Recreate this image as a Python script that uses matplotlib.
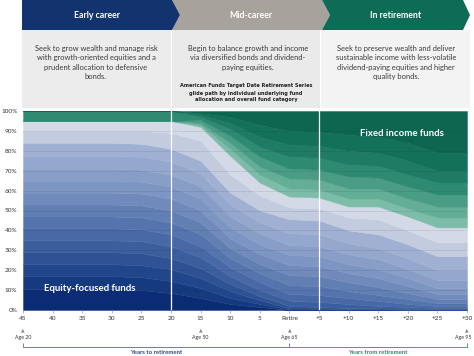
import numpy as np
import matplotlib
matplotlib.use("Agg")
import matplotlib.pyplot as plt
from matplotlib.patches import Polygon, Rectangle
from matplotlib.transforms import blended_transform_factory, offset_copy

plt.rcParams['font.family'] = ['Lato', 'DejaVu Sans']

# ---------------- data ----------------
years = [-45, -40, -35, -30, -25, -20, -15, -10, -5, 0, 5, 10, 15, 20, 25, 30]
tick_labels = ["45", "40", "35", "30", "25", "20", "15", "10", "5", "Retire",
               "+5", "+10", "+15", "+20", "+25", "+30"]

# cumulative tops (%) of the 15 equity fund layers at each year (bottom -> top)
equity_tops = [
    [10.5, 17, 23, 29, 35, 41, 47, 53, 59, 65, 71, 77.5, 84, 90, 95],
    [10.5, 17, 23, 29, 35, 41, 47, 53, 59, 65, 71, 77.5, 84, 90, 95],
    [10.5, 17, 23, 29, 35, 41, 47, 53, 59, 65, 71, 77.5, 84, 90, 95],
    [10.5, 17, 23, 29, 35, 41, 47, 53, 59, 65, 71, 77.5, 84, 90, 95],
    [10, 16.5, 22.5, 28.5, 34.5, 40.5, 46.5, 52.5, 58.5, 64.5, 70.5, 77, 83.5, 90, 95],
    [8.5, 14.5, 20.5, 26, 32, 38, 44, 50, 56, 62, 68, 74.5, 81, 89, 95],
    [6, 11, 16, 21, 26.5, 32, 38, 44, 50, 56, 62, 68.5, 75, 85, 92],
    [3, 6, 9.5, 13, 17, 21.5, 26, 31, 36, 41.5, 47, 53, 59, 68, 77.5],
    [1.5, 3, 5, 7, 10, 14, 18.5, 23, 28, 33, 38.5, 44, 50, 57.5, 64],
    [0, 0.3, 0.8, 2, 4.7, 8, 12.4, 17.5, 22.5, 27.6, 32.6, 38.6, 45.6, 51.5, 57],
    [0, 0.2, 0.6, 1.5, 4, 7.5, 12, 17, 22, 27, 32, 38, 45, 51, 56.5],
    [0, 0.1, 0.4, 1, 3, 6, 9.5, 14, 18.5, 23, 28, 33.5, 40, 46.5, 52],
    [0, 0, 0.3, 0.8, 2, 4.5, 7.5, 11.5, 16, 20.5, 25.5, 31, 38, 45.5, 52],
    [0, 0, 0.1, 0.5, 1.5, 3, 5.5, 8.5, 12, 16, 20.5, 26, 33, 40, 47],
    [0, 0, 0, 0.3, 1, 2, 3.5, 5.5, 8, 11, 15, 20, 27, 34, 41.5],
    [0, 0, 0, 0.3, 1, 2, 3.5, 5.5, 8, 11, 15, 20, 27, 34, 41.5],
]

# cumulative tops (%) of the 7 fixed income fund layers at each year
income_tops = [
    [95, 95, 95, 100, 100, 100, 100],
    [95, 95, 95, 100, 100, 100, 100],
    [95, 95, 95, 100, 100, 100, 100],
    [95, 95, 95, 100, 100, 100, 100],
    [95, 95, 95, 100, 100, 100, 100],
    [95, 95, 95, 100, 100, 100, 100],
    [93, 94, 95.5, 97, 98, 99, 100],
    [81, 84, 87.5, 91, 94, 97, 100],
    [68, 72, 77, 82, 87, 93, 100],
    [61, 66, 71, 77, 83, 90, 100],
    [60.5, 65.5, 70.5, 76.5, 82.5, 89.5, 100],
    [56, 61, 67, 73, 80, 88, 100],
    [56, 61, 66.5, 72.5, 79, 87, 100],
    [51, 56, 62, 68, 75, 84, 100],
    [46.5, 52, 58, 64, 70, 79, 100],
    [46.5, 52, 58, 64, 70, 79, 100],
]

age_years = [-45, -15, 0, 30]
age_labels = ["Age 20", "Age 50", "Age 65", "Age 95"]

phases = ["Early career", "Mid-career", "In retirement"]
phase_text = [
    ["Seek to grow wealth and manage risk", "with growth-oriented equities and a",
     "prudent allocation to defensive", "bonds."],
    ["Begin to balance growth and income", "via diversified bonds and dividend-",
     "paying equities."],
    ["Seek to preserve wealth and deliver", "sustainable income with less-volatile",
     "dividend-paying equities and higher", "quality bonds."],
]
note_text = ["American Funds Target Date Retirement Series",
             "glide path by individual underlying fund",
             "allocation and overall fund category"]

equity_colors = ["#0b2c74", "#163a80", "#22468b", "#2e5294", "#3b5e9d", "#4869a6",
                 "#5574ad", "#627fb4", "#6f8abb", "#7c95c2", "#889ec7", "#94a7cd",
                 "#a0b0d3", "#c3cbdf", "#d3d9e7"]
income_colors = ["#7dbca8", "#64ad97", "#4a9c85", "#2f8a72", "#1f7b63", "#137059", "#0c6650"]

# ---------------- figure ----------------
W, H = 474, 356
fig = plt.figure(figsize=(W / 100, H / 100), dpi=100)
ov = fig.add_axes([0, 0, 1, 1])
ov.set_xlim(0, W)
ov.set_ylim(H, 0)
ov.axis('off')

ax = fig.add_axes([23 / W, 1 - 310 / H, 444 / W, 199 / H])

x = np.array(years, dtype=float)
eq = np.array(equity_tops, dtype=float)
inc = np.array(income_tops, dtype=float)

lower = np.zeros(len(x))
for k in range(eq.shape[1]):
    upper = eq[:, k]
    ax.fill_between(x, lower, upper, facecolor=equity_colors[k],
                    edgecolor=equity_colors[k], linewidth=0.3)
    lower = upper
for k in range(inc.shape[1]):
    upper = inc[:, k]
    ax.fill_between(x, lower, upper, facecolor=income_colors[k],
                    edgecolor=income_colors[k], linewidth=0.3)
    lower = upper

for g in range(10, 100, 10):
    ax.axhline(g, color='#1a2a40', alpha=0.12, lw=0.6, zorder=3)
for v in (-20, 5):
    ax.axvline(v, color='white', lw=0.9, zorder=4)

ax.set_xlim(-45, 30)
ax.set_ylim(0, 100)
ax.set_yticks(range(0, 101, 10))
ax.set_yticklabels([f"{v}%" for v in range(0, 101, 10)])
ax.set_xticks(years)
ax.set_xticklabels(tick_labels)
ax.tick_params(axis='y', length=0, pad=4, labelsize=4.6, labelcolor='#333333')
ax.tick_params(axis='x', length=2.5, width=0.5, color='#9a9a9a', pad=2,
               labelsize=4.6, labelcolor='#333333')
for s in ax.spines.values():
    s.set_visible(False)

ax.text(-41.5, 11, "Equity-focused funds", color='white', fontsize=6.9,
        fontweight='bold', va='center', ha='left', zorder=5)
ax.text(12, 88.5, "Fixed income funds", color='white', fontsize=6.9,
        fontweight='bold', va='center', ha='left', zorder=5)

# ---------------- header ----------------
ov.add_patch(Rectangle((22, 30), 149, 78, facecolor='#ececec', edgecolor='none'))
ov.add_patch(Rectangle((172.5, 30), 147.5, 78, facecolor='#eaeaea', edgecolor='none'))
ov.add_patch(Rectangle((321, 30), 149, 78, facecolor='#f3f3f3', edgecolor='none'))

ov.add_patch(Polygon([(172, 0), (322, 0), (330, 15), (322, 30), (172, 30), (180, 15)],
                     closed=True, facecolor='#a7a29c', edgecolor='none'))
ov.add_patch(Polygon([(322, 0), (463, 0), (470, 15), (463, 30), (322, 30), (330, 15)],
                     closed=True, facecolor='#0e6b55', edgecolor='none'))
ov.add_patch(Polygon([(22, 0), (172, 0), (180, 15), (172, 30), (22, 30)],
                     closed=True, facecolor='#13336f', edgecolor='none'))

centers = [97, 251, 396]
for cx, title in zip(centers, phases):
    ov.text(cx, 15.5, title, color='white', fontsize=6.3, fontweight='bold',
            ha='center', va='center')
for cx, lines in zip([96, 248, 396], phase_text):
    for i, line in enumerate(lines):
        ov.text(cx, 48.5 + i * 9.3, line, color='#3a3a3a', fontsize=5.4,
                ha='center', va='center')
for i, line in enumerate(note_text):
    ov.text(246, 86 + i * 7, line, color='#222222', fontsize=3.6, fontweight='bold',
            ha='center', va='center', family=['Liberation Sans Narrow', 'DejaVu Sans'])

# ---------------- bottom annotations ----------------
bt = blended_transform_factory(ax.transData, ov.transData)
for yv, lab in zip(age_years, age_labels):
    tr = bt
    tx = yv
    if yv == age_years[-1]:
        tr = offset_copy(bt, fig=fig, x=-4, y=0, units='dots')
    ov.text(yv, 330, "\u25B2", transform=bt, fontsize=3.4, color='#8a8a8a',
            ha='center', va='center', family=['DejaVu Sans'])
    ov.text(tx, 338, lab, transform=tr, fontsize=3.8, color='#333333',
            ha='center', va='center')

ov.plot([-45, -45, 0, 0], [343, 346.5, 346.5, 343], transform=bt,
        color='#6d7f9f', lw=0.7, solid_capstyle='butt')
ov.plot([0, 30, 30], [346.5, 346.5, 343], transform=bt,
        color='#4a9a85', lw=0.7, solid_capstyle='butt')
ov.text(-22.5, 352.5, "Years to retirement", transform=bt, fontsize=4.3,
        color='#2c4a80', ha='center', va='center', fontweight='bold')
ov.text(15, 352.5, "Years from retirement", transform=bt, fontsize=4.3,
        color='#2a8770', ha='center', va='center', fontweight='bold')

fig.savefig("out.png", dpi=100)
